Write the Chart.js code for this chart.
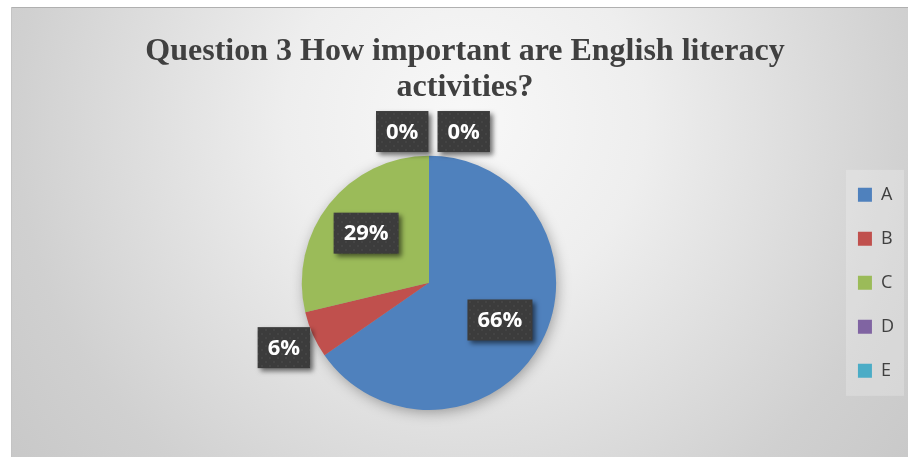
<!DOCTYPE html>
<html>
<head>
<meta charset="utf-8">
<script src="https://cdn.jsdelivr.net/npm/chart.js@4/dist/chart.umd.min.js"></script>
<style>
  html, body { margin: 0; padding: 0; background: #ffffff; }
  #wrap { width: 908px; height: 457px; }
</style>
</head>
<body>
<div id="wrap"><canvas id="chart" width="908" height="457"></canvas></div>
<script>
// Survey answers and their shares (percent)
const categories = ['A', 'B', 'C', 'D', 'E'];
const shares = [66, 6, 29, 0, 0];
const sliceColors = ['#4f81bd', '#c0504d', '#9bbb59', '#8064a2', '#4bacc6'];
const titleLines = ['Question 3 How important are English literacy', 'activities?'];

// Dark dotted fill used behind the value labels
function makeLabelPattern(ctx) {
  const tile = document.createElement('canvas');
  tile.width = 8; tile.height = 8;
  const t = tile.getContext('2d');
  t.fillStyle = '#3c3c3c';
  t.fillRect(0, 0, 8, 8);
  t.fillStyle = '#474747';
  t.beginPath(); t.arc(2, 2, 1.1, 0, Math.PI * 2); t.fill();
  t.beginPath(); t.arc(6, 6, 1.1, 0, Math.PI * 2); t.fill();
  return ctx.createPattern(tile, 'repeat');
}

// Grey gradient panel plus the soft legend panel
const backdrop = {
  id: 'backdrop',
  beforeDraw(chart) {
    const { ctx, width, height } = chart;
    ctx.save();
    ctx.fillStyle = '#ffffff';
    ctx.fillRect(0, 0, width, height);
    const g = ctx.createRadialGradient(465, 120, 0, 465, 120, 600);
    g.addColorStop(0, '#f8f8f8');
    g.addColorStop(0.3, '#eeeeee');
    g.addColorStop(0.75, '#d0d0d0');
    g.addColorStop(1, '#c6c6c6');
    ctx.fillStyle = g;
    ctx.fillRect(11, 7, width - 11, height - 7);
    ctx.fillStyle = '#b0b0b0';
    ctx.fillRect(11, 7, width - 11, 1);
    ctx.fillStyle = '#c4c4c4';
    ctx.fillRect(11, 7, 1, height - 7);

    const lg = chart.legend;
    if (lg && lg.legendHitBoxes && lg.legendHitBoxes.length) {
      const boxes = lg.legendHitBoxes;
      const first = boxes[0], last = boxes[boxes.length - 1];
      const x0 = first.left - 12;
      const y0 = first.top - 16;
      const y1 = last.top + last.height + 16;
      ctx.fillStyle = 'rgba(255,255,255,0.22)';
      ctx.fillRect(x0, y0, width - 4 - x0, y1 - y0);
    }
    ctx.restore();
  }
};

// Shadow under the pie and the boxed percentage labels
const pieExtras = {
  id: 'pieExtras',
  beforeDatasetsDraw(chart) {
    const meta = chart.getDatasetMeta(0);
    const arc = meta.data[0];
    if (!arc) return;
    const { x, y, outerRadius } = arc.getProps(['x', 'y', 'outerRadius'], true);
    const ctx = chart.ctx;
    ctx.save();
    ctx.shadowColor = 'rgba(0,0,0,0.35)';
    ctx.shadowBlur = 14;
    ctx.shadowOffsetX = 2;
    ctx.shadowOffsetY = 3;
    ctx.fillStyle = '#9a9a9a';
    ctx.beginPath();
    ctx.arc(x, y, outerRadius - 1, 0, Math.PI * 2);
    ctx.fill();
    ctx.restore();
  },
  afterDatasetsDraw(chart) {
    const ctx = chart.ctx;
    const meta = chart.getDatasetMeta(0);
    const pattern = makeLabelPattern(ctx);
    const values = chart.data.datasets[0].data;
    const zeros = values.map((v, i) => v === 0 ? i : -1).filter(i => i >= 0);
    ctx.save();
    ctx.font = 'bold 22px "Open Sans", "DejaVu Sans", sans-serif';
    ctx.textAlign = 'center';
    ctx.textBaseline = 'middle';
    meta.data.forEach((arc, i) => {
      const v = values[i];
      const p = arc.getProps(['x', 'y', 'startAngle', 'endAngle', 'outerRadius'], true);
      const r = p.outerRadius;
      let cx, cy;
      if (v === 0) {
        const k = zeros.indexOf(i);
        cx = p.x + 4 + (k - (zeros.length - 1) / 2) * 61.5;
        cy = p.y - r * 1.19;
      } else {
        const mid = (p.startAngle + p.endAngle) / 2;
        const dist = v < 10 ? r * 1.25 : r * 0.63;
        cx = p.x + Math.cos(mid) * dist;
        cy = p.y + Math.sin(mid) * dist;
      }
      const text = v + '%';
      const w = ctx.measureText(text).width + 20;
      const h = 41;
      ctx.save();
      ctx.shadowColor = 'rgba(0,0,0,0.55)';
      ctx.shadowBlur = 5;
      ctx.shadowOffsetX = 3;
      ctx.shadowOffsetY = 3;
      ctx.fillStyle = pattern;
      ctx.fillRect(cx - w / 2, cy - h / 2, w, h);
      ctx.restore();
      ctx.fillStyle = '#ffffff';
      ctx.fillText(text, cx, cy + 1);
    });
    ctx.restore();
  }
};

new Chart(document.getElementById('chart'), {
  type: 'pie',
  data: {
    labels: categories,
    datasets: [{
      data: shares,
      backgroundColor: sliceColors,
      borderWidth: 0,
      hoverOffset: 0
    }]
  },
  options: {
    responsive: false,
    animation: false,
    devicePixelRatio: 1,
    layout: { padding: { top: 0, bottom: 47, left: 26, right: 4 } },
    plugins: {
      tooltip: { enabled: false },
      title: {
        display: true,
        text: titleLines,
        color: '#404040',
        font: { family: '"Liberation Serif", "Times New Roman", serif', size: 32, weight: 'bold', lineHeight: 1.12 },
        padding: { top: 34, bottom: 50 }
      },
      legend: {
        position: 'right',
        fullSize: false,
        labels: {
          boxWidth: 14,
          boxHeight: 14,
          padding: 26,
          color: '#404040',
          font: { family: '"Open Sans", "DejaVu Sans", sans-serif', size: 18 }
        }
      }
    }
  },
  plugins: [backdrop, pieExtras]
});
</script>
</body>
</html>
